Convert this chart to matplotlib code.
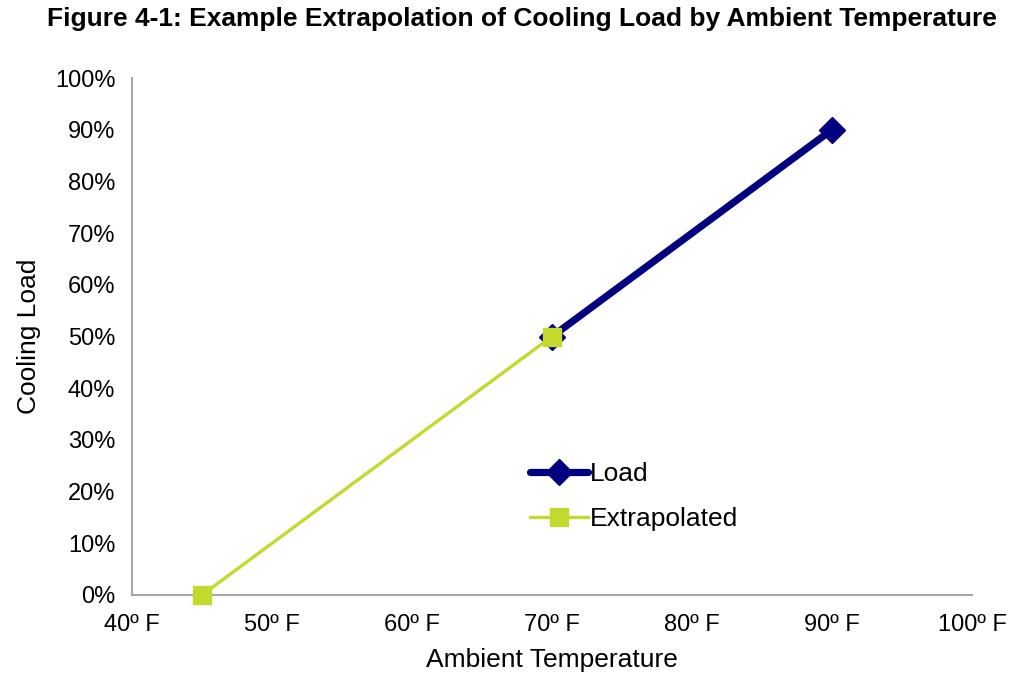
#!/usr/bin/env python3

import matplotlib
matplotlib.use("Agg")
import matplotlib.pyplot as plt
from matplotlib.ticker import PercentFormatter

plt.rcParams['font.family'] = ['Liberation Sans', 'DejaVu Sans']

load_temp = [70, 90]
load_pct = [50, 90]
extrap_temp = [45, 70]
extrap_pct = [0, 50]
x_ticks = [40, 50, 60, 70, 80, 90, 100]
x_labels = ["40º F", "50º F", "60º F", "70º F", "80º F", "90º F", "100º F"]
y_ticks = [0, 10, 20, 30, 40, 50, 60, 70, 80, 90, 100]


def main():
    fig = plt.figure(figsize=(10.1, 6.73), dpi=100)
    ax = fig.add_axes([0.1307, 0.1159, 0.8317, 0.7682])

    ax.plot(load_temp, load_pct, color='#000080', lw=5.2, marker='D',
            markersize=13, label="Load", solid_capstyle='round', zorder=3)
    ax.plot(extrap_temp, extrap_pct, color='#c3d92e', lw=2.4, marker='s',
            markersize=12.5, label="Extrapolated", zorder=4)

    ax.set_xlim(40, 100)
    ax.set_ylim(0, 100)
    ax.set_xticks(x_ticks)
    ax.set_xticklabels(x_labels)
    ax.set_yticks(y_ticks)
    ax.yaxis.set_major_formatter(PercentFormatter(decimals=0))
    ax.tick_params(length=0, labelsize=17)
    ax.tick_params(axis='x', pad=14)
    ax.tick_params(axis='y', pad=12)

    for s in ['top', 'right']:
        ax.spines[s].set_visible(False)
    for s in ['left', 'bottom']:
        ax.spines[s].set_color('#a6a6a6')
        ax.spines[s].set_linewidth(1.5)
    for m in ax.get_lines():
        m.set_clip_on(False)

    ax.set_xlabel("Ambient Temperature", fontsize=19, labelpad=8)
    ax.set_ylabel("Cooling Load", fontsize=19, labelpad=10)

    fig.suptitle("Figure 4-1: Example Extrapolation of Cooling Load by Ambient Temperature",
                 fontsize=19, fontweight='bold', x=0.5165, y=0.99)

    ax.legend(loc='center left', bbox_to_anchor=(0.474, 0.19), frameon=False,
              fontsize=19, handlelength=2.2, handletextpad=0.05,
              labelspacing=0.8, borderpad=0, borderaxespad=0)

    fig.savefig("out.png", dpi=100)


if __name__ == "__main__":
    main()
